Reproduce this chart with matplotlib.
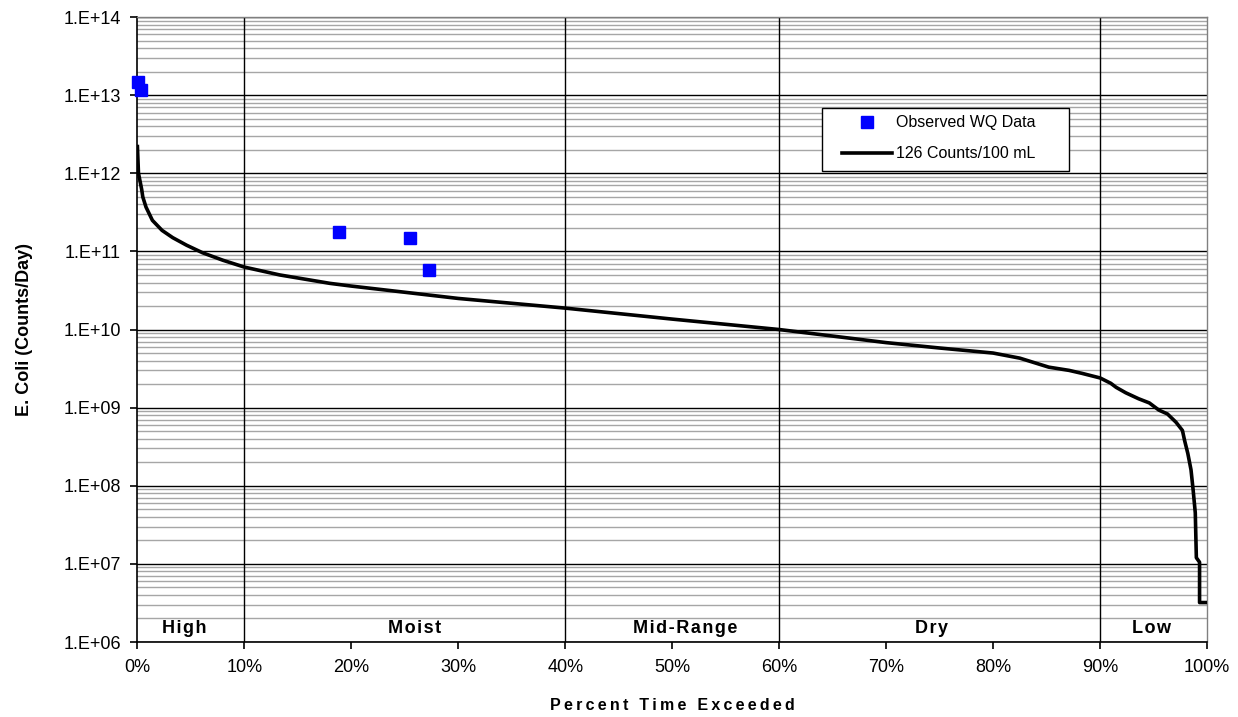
import matplotlib
matplotlib.use("Agg")
import matplotlib.pyplot as plt
from matplotlib.patches import Rectangle
from matplotlib.ticker import FuncFormatter, LogLocator, NullFormatter, MultipleLocator
import numpy as np

plt.rcParams["font.family"] = ["Liberation Sans", "DejaVu Sans"]

# load duration curve at the 126 counts/100 mL criterion
pct_exceeded = [0, 0.1, 0.4, 0.5, 0.8, 1.4, 2.3, 3.3, 4.6, 6.1, 8.0, 10, 13.3, 18, 20,
                30, 40, 50, 60, 70, 75, 80, 82.5, 85.2, 87.1, 88.3, 90, 91.0, 91.5,
                92.4, 93.6, 94.6, 95.5, 96.3, 97.1, 97.7, 97.9, 98.2, 98.5, 98.7,
                98.9, 99.0, 99.3, 99.3, 100]
criterion_load = [2.2e12, 1.0e12, 6.2e11, 5.0e11, 3.7e11, 2.5e11, 1.86e11, 1.5e11,
                  1.2e11, 9.6e10, 7.7e10, 6.3e10, 5.0e10, 3.9e10, 3.6e10, 2.5e10,
                  1.88e10, 1.36e10, 1.0e10, 6.8e9, 5.8e9, 5.0e9, 4.3e9, 3.3e9,
                  3.0e9, 2.75e9, 2.4e9, 2.05e9, 1.82e9, 1.55e9, 1.3e9, 1.15e9,
                  9.3e8, 8.3e8, 6.5e8, 5.1e8, 3.8e8, 2.6e8, 1.6e8, 8.8e7, 4.5e7,
                  1.2e7, 1.05e7, 3.2e6, 3.2e6]

# observed water quality samples
obs_pct = [0.1, 0.3, 18.8, 25.5, 27.3]
obs_load = [1.47e13, 1.16e13, 1.77e11, 1.5e11, 5.8e10]

# flow zones
zone_names = ["High", "Moist", "Mid-Range", "Dry", "Low"]
zone_edges = [0, 10, 40, 60, 90, 100]
zone_label_x = [4.4, 25.9, 51.2, 74.2, 94.8]

# y-axis decades shown
decades = [10.0 ** k for k in range(6, 15)]

fig = plt.figure(figsize=(12.38, 7.17), dpi=100)
ax = fig.add_axes([0.111, 0.1046, 0.864, 0.8716])

ax.set_yscale("log")
ax.set_xlim(0, 100)
ax.set_ylim(decades[0], decades[-1])

# gridlines: gray minor, black major, black zone dividers
ax.set_yticks(decades)
ax.yaxis.set_minor_locator(LogLocator(base=10, subs=np.arange(2, 10), numticks=20))
ax.yaxis.set_minor_formatter(NullFormatter())
ax.grid(which="minor", axis="y", color="#a6a6a6", lw=1.0)
ax.grid(which="major", axis="y", color="black", lw=1.0)
for edge in zone_edges[1:-1]:
    ax.axvline(edge, color="black", lw=1.0, zorder=1.5)
ax.set_axisbelow(True)

ax.xaxis.set_major_locator(MultipleLocator(10))
ax.xaxis.set_major_formatter(FuncFormatter(lambda v, p: f"{v:.0f}%"))
ax.yaxis.set_major_formatter(
    FuncFormatter(lambda v, p: f"1.E+{int(round(np.log10(v))):02d}"))

ax.tick_params(axis="both", which="major", direction="out", length=5,
               width=1.2, labelsize=13, pad=7, color="black")
ax.tick_params(axis="y", which="minor", length=0)

for side in ["top", "right"]:
    ax.spines[side].set_color("#808080")
    ax.spines[side].set_linewidth(1.0)
for side in ["left", "bottom"]:
    ax.spines[side].set_color("black")
    ax.spines[side].set_linewidth(1.2)

ax.plot(pct_exceeded, criterion_load, color="black", lw=2.6,
        solid_joinstyle="round", label="126 Counts/100 mL", zorder=3)
ax.plot(obs_pct, obs_load, ls="none", marker="s", ms=8.5, color="#0000ff",
        mec="#0000ff", label="Observed WQ Data", clip_on=False, zorder=4)

hair = "\u200a"
for name, xpos in zip(zone_names, zone_label_x):
    ax.text(xpos, 0.008, hair.join(name), transform=ax.get_xaxis_transform(),
            ha="center", va="bottom", fontsize=13, fontweight="bold")

# legend box drawn separately so the entries can sit inset from the left edge
ax.add_patch(Rectangle((0.640, 0.7536), 0.231, 0.1008, transform=ax.transAxes,
                       facecolor="white", edgecolor="black", lw=1.0, zorder=5))
handles, labels = ax.get_legend_handles_labels()
leg = ax.legend(handles[::-1], labels[::-1], loc="upper left",
                bbox_to_anchor=(0.659, 0.843), fontsize=11.5, frameon=False,
                handlelength=3.1, borderpad=0, labelspacing=1.0,
                handletextpad=0.25, borderaxespad=0)
leg.set_zorder(6)

thin = "\u2009"
ax.set_xlabel(thin.join("Percent Time Exceeded"), fontsize=11.5,
              fontweight="bold", labelpad=16)
ax.set_ylabel("E. Coli (Counts/Day)", fontsize=13, fontweight="bold",
              labelpad=22)

fig.savefig("out.png", dpi=100)
